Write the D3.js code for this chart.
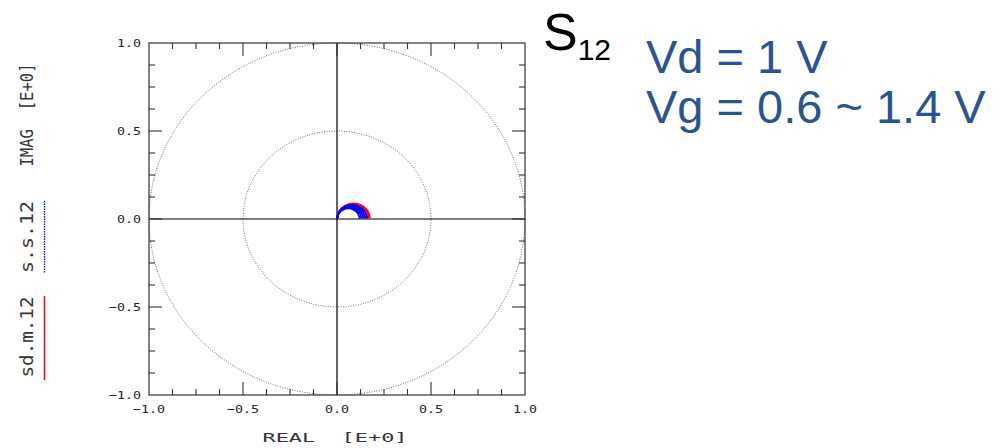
<!DOCTYPE html>
<html>
<head>
<meta charset="utf-8">
<script src="https://cdn.jsdelivr.net/npm/d3@7"></script>
<style>
html,body{margin:0;padding:0;background:#fff;}
svg{display:block;}
text{white-space:pre;}
</style>
</head>
<body>
<svg id="chart" width="1000" height="448"></svg>
<script>
// ---- data ----
const xTickLabels = ["-1.0", "-0.5", "0.0", "0.5", "1.0"];
const yTickLabels = ["-1.0", "-0.5", "0.0", "0.5", "1.0"];
const majorTicks = [-1, -0.5, 0, 0.5, 1];
const minorTicks = [-0.875,-0.75,-0.625,-0.375,-0.25,-0.125,0.125,0.25,0.375,0.625,0.75,0.875];
const refCircles = [1.0, 0.5];
const seriesNames = ["sd.m.12", "s.s.12"];
// measured (red) curves, Vg = 0.6 ... 1.4 V : real / imag parts
const measuredRe = [
  [0, 0.0118, 0.044, 0.088, 0.132, 0.1642, 0.176],
  [0, 0.0114, 0.0425, 0.085, 0.1275, 0.1586, 0.170],
  [0, 0.011, 0.041, 0.082, 0.123, 0.153, 0.164],
  [0, 0.0106, 0.0395, 0.079, 0.1185, 0.1474, 0.158],
  [0, 0.0102, 0.038, 0.076, 0.114, 0.1418, 0.152]
];
const measuredIm = [
  [0, 0.044, 0.0762, 0.088, 0.0762, 0.044, 0.004],
  [0, 0.0425, 0.0736, 0.085, 0.0736, 0.0425, 0.004],
  [0, 0.041, 0.071, 0.082, 0.071, 0.041, 0.004],
  [0, 0.0395, 0.0684, 0.079, 0.0684, 0.0395, 0.004],
  [0, 0.038, 0.0658, 0.076, 0.0658, 0.038, 0.004]
];
// simulated (blue) curves
const simulatedRe = [
  [0, 0.0107, 0.040, 0.080, 0.120, 0.1493, 0.160],
  [0, 0.010, 0.0375, 0.075, 0.1125, 0.140, 0.150],
  [0, 0.0094, 0.035, 0.070, 0.105, 0.1306, 0.140],
  [0, 0.0087, 0.0325, 0.065, 0.0975, 0.1213, 0.130],
  [0, 0.008, 0.030, 0.060, 0.090, 0.112, 0.120]
];
const simulatedIm = [
  [0, 0.040, 0.0693, 0.080, 0.0693, 0.040, 0.003],
  [0, 0.0375, 0.065, 0.075, 0.065, 0.0375, 0.003],
  [0, 0.035, 0.0606, 0.070, 0.0606, 0.035, 0.003],
  [0, 0.0325, 0.0563, 0.065, 0.0563, 0.0325, 0.003],
  [0, 0.030, 0.052, 0.060, 0.052, 0.030, 0.003]
];

// ---- layout ----
const svg = d3.select("#chart");
const L = 149, R = 525, T = 43, B = 395;
const x = d3.scaleLinear().domain([-1, 1]).range([L, R]);
const y = d3.scaleLinear().domain([-1, 1]).range([B, T]);
const mono = "'DejaVu Sans Mono', 'Liberation Mono', monospace";

// reference circles (dotted)
const circPts = d3.range(0, 361, 1);
refCircles.forEach(r => {
  svg.append("path")
    .attr("d", d3.line().x(a => x(r * Math.cos(a * Math.PI / 180))).y(a => y(r * Math.sin(a * Math.PI / 180)))(circPts))
    .attr("fill", "none").attr("stroke", "#555").attr("stroke-width", 0.9)
    .attr("stroke-dasharray", "1,1.5");
});

// centre lines
svg.append("line").attr("x1", x(0)).attr("x2", x(0)).attr("y1", y(1)).attr("y2", y(-1)).attr("stroke", "#000").attr("stroke-width", 1.2);
svg.append("line").attr("x1", x(-1)).attr("x2", x(1)).attr("y1", y(0)).attr("y2", y(0)).attr("stroke", "#000").attr("stroke-width", 1.2);

// frame
svg.append("rect").attr("x", L).attr("y", T).attr("width", R - L).attr("height", B - T)
  .attr("fill", "none").attr("stroke", "#333").attr("stroke-width", 1.2);

// ticks (inside, all four sides)
const gT = svg.append("g").attr("stroke", "#333").attr("stroke-width", 1.1);
function ticks(vals, len) {
  vals.forEach(v => {
    gT.append("line").attr("x1", x(v)).attr("x2", x(v)).attr("y1", B).attr("y2", B - len);
    gT.append("line").attr("x1", x(v)).attr("x2", x(v)).attr("y1", T).attr("y2", T + len);
    gT.append("line").attr("y1", y(v)).attr("y2", y(v)).attr("x1", L).attr("x2", L + len);
    gT.append("line").attr("y1", y(v)).attr("y2", y(v)).attr("x1", R).attr("x2", R - len);
  });
}
ticks(minorTicks, 6);
ticks(majorTicks.slice(1, 4), 13);

// tick labels
svg.append("g").selectAll("text").data(majorTicks).join("text")
  .attr("x", d => x(d)).attr("y", 413).attr("text-anchor", "middle")
  .attr("font-family", mono).attr("font-size", 11).attr("fill", "#222")
  .attr("textLength", (d, i) => xTickLabels[i].length * 8).attr("lengthAdjust", "spacingAndGlyphs")
  .text((d, i) => xTickLabels[i].replace("-", "\u2212"));
svg.append("g").selectAll("text").data(majorTicks).join("text")
  .attr("x", 141).attr("y", d => y(d) + 4).attr("text-anchor", "end")
  .attr("font-family", mono).attr("font-size", 11).attr("fill", "#222")
  .attr("textLength", (d, i) => yTickLabels[i].length * 8).attr("lengthAdjust", "spacingAndGlyphs")
  .text((d, i) => yTickLabels[i].replace("-", "\u2212"));

// axis titles
svg.append("text").attr("x", 335).attr("y", 442).attr("text-anchor", "middle")
  .attr("font-family", mono).attr("font-size", 13).attr("fill", "#333")
  .attr("textLength", 145).attr("lengthAdjust", "spacingAndGlyphs")
  .text("REAL  [E+0]");
function vlabel(cx, cy, txt, len) {
  svg.append("text").attr("transform", `translate(${cx},${cy}) rotate(-90)`)
    .attr("x", 0).attr("y", 6).attr("text-anchor", "middle")
    .attr("font-family", mono).attr("font-size", 17).attr("fill", "#333")
    .attr("textLength", len).attr("lengthAdjust", "spacingAndGlyphs")
    .text(txt);
}
vlabel(27, 115, "IMAG  [E+0]", 103);
vlabel(27, 237, seriesNames[1], 72);
vlabel(27, 337, seriesNames[0], 81);
// legend swatches
svg.append("line").attr("x1", 44.5).attr("x2", 44.5).attr("y1", 201).attr("y2", 273)
  .attr("stroke", "#0000ff").attr("stroke-width", 1.3).attr("stroke-dasharray", "1.5,1");
svg.append("line").attr("x1", 44.5).attr("x2", 44.5).attr("y1", 296).attr("y2", 380)
  .attr("stroke", "#ff0000").attr("stroke-width", 1.5);

// curves
const line = d3.line().x(d => x(d[0])).y(d => y(d[1])).curve(d3.curveCardinal.tension(0.2));
measuredRe.forEach((re, i) => {
  svg.append("path").attr("d", line(re.map((v, j) => [v, measuredIm[i][j]])))
    .attr("fill", "none").attr("stroke", "#ff0000").attr("stroke-width", 1.8);
});
simulatedRe.forEach((re, i) => {
  svg.append("path").attr("d", line(re.map((v, j) => [v, simulatedIm[i][j]])))
    .attr("fill", "none").attr("stroke", "#0000ff").attr("stroke-width", 1.8);
});

// title text
const arial = "'Liberation Sans', Arial, sans-serif";
const t = svg.append("text").attr("x", 543).attr("y", 50).attr("font-family", arial).attr("fill", "#000");
t.append("tspan").attr("font-size", 52).text("S");
t.append("tspan").attr("font-size", 30).attr("dy", 10).text("12");
svg.append("text").attr("x", 646).attr("y", 73).attr("font-family", arial).attr("font-size", 47)
  .attr("fill", "#2a5490").text("Vd = 1 V");
svg.append("text").attr("x", 646).attr("y", 123).attr("font-family", arial).attr("font-size", 47)
  .attr("fill", "#2a5490").text("Vg = 0.6 ~ 1.4 V");
</script>
</body>
</html>
